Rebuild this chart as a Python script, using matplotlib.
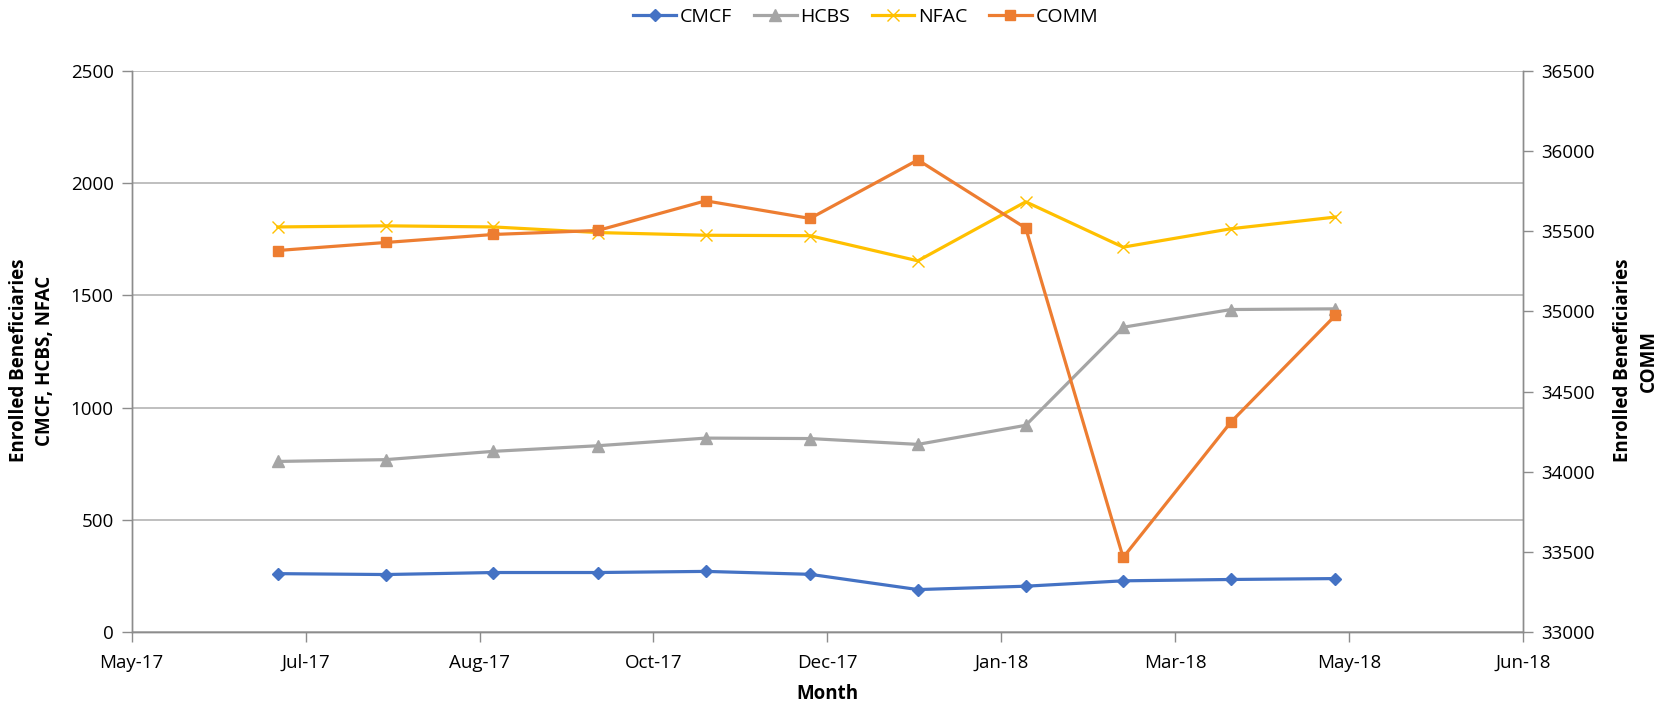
import matplotlib
matplotlib.use("Agg")
import matplotlib.pyplot as plt
import matplotlib.dates as mdates
import numpy as np
import pandas as pd

plt.rcParams["font.family"] = ["Open Sans", "DejaVu Sans"]

# month-end reporting dates
months = ["2017-06-30", "2017-07-31", "2017-08-31", "2017-09-30", "2017-10-31",
          "2017-11-30", "2017-12-31", "2018-01-31", "2018-02-28", "2018-03-31",
          "2018-04-30"]
cmcf = [260, 256, 265, 265, 270, 257, 189, 204, 228, 234, 238]
hcbs = [760, 768, 805, 830, 864, 862, 836, 921, 1358, 1437, 1440]
nfac = [1805, 1810, 1805, 1780, 1768, 1766, 1654, 1917, 1715, 1797, 1849]
comm = [35380, 35430, 35480, 35505, 35690, 35580, 35945, 35520, 33465, 34310, 34975]

dates = pd.to_datetime(months)

fig = plt.figure(figsize=(16.62, 7.07), dpi=100)
ax = fig.add_axes([0.0792, 0.1061, 0.8373, 0.7935])
ax2 = ax.twinx()

lw = 2.3
h1, = ax.plot(dates, cmcf, color="#4472C4", lw=lw, marker="D", ms=6, label="CMCF")
h2, = ax.plot(dates, hcbs, color="#A5A5A5", lw=lw, marker="^", ms=8, label="HCBS")
h3, = ax.plot(dates, nfac, color="#FFC000", lw=lw, marker="x", ms=8, mew=1.0, label="NFAC")
h4, = ax2.plot(dates, comm, color="#ED7D31", lw=lw, marker="s", ms=7.5, label="COMM")

# date axis: ticks every 50 days like the spreadsheet chart
start = pd.Timestamp("2017-05-19")
end = pd.Timestamp("2018-06-23")
ax.set_xlim(start, end)
ax.set_xticks(pd.date_range(start, end, freq="50D"))
ax.xaxis.set_major_formatter(mdates.DateFormatter("%b-%y"))

ax.set_ylim(0, 2500)
ax.set_yticks(np.arange(0, 2501, 500))
ax2.set_ylim(33000, 36500)
ax2.set_yticks(np.arange(33000, 36501, 500))

ax.grid(axis="y", color="#B4B4B4", lw=1.2)
ax.set_axisbelow(True)

for a in (ax, ax2):
    a.spines["top"].set_visible(False)
    for s in ("left", "right", "bottom"):
        a.spines[s].set_color("#8C8C8C")
        a.spines[s].set_linewidth(1.0)
    a.tick_params(colors="#8C8C8C", labelcolor="black", labelsize=13.5,
                  length=7, width=1.0, direction="out")
ax.tick_params(axis="x", pad=9)
ax.tick_params(axis="y", pad=6)
ax2.tick_params(axis="y", pad=6)

lab = dict(fontsize=13.5, fontweight="bold", ha="center", va="center",
           multialignment="center", rotation=90, linespacing=1.35)
fig.text(32 / 1662, 0.49, "Enrolled Beneficiaries\nCMCF, HCBS, NFAC", **lab)
fig.text(1636 / 1662, 0.49, "Enrolled Beneficiaries\nCOMM", **lab)
fig.text((131.7 + 1523.3) / 2 / 1662, 1 - 694 / 707, "Month",
         fontsize=13.5, fontweight="bold", ha="center", va="center")

fig.legend(handles=[h1, h2, h3, h4], loc="center", bbox_to_anchor=(0.521, 1 - 17 / 707),
           ncol=4, frameon=False, fontsize=14, handlelength=2.2,
           handletextpad=0.2, columnspacing=1.1, numpoints=1)

fig.savefig("out.png", dpi=100)
